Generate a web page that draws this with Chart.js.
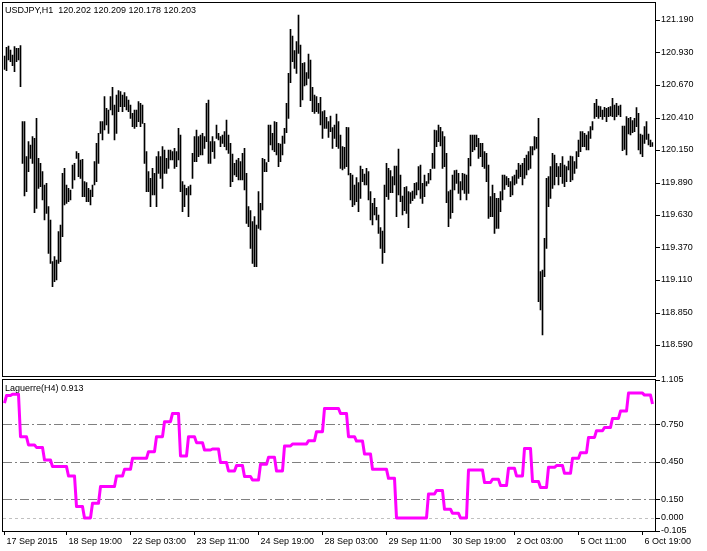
<!DOCTYPE html>
<html>
<head>
<meta charset="utf-8">
<script src="https://cdn.jsdelivr.net/npm/chart.js@4.4.1/dist/chart.umd.min.js"></script>
<style>
  html, body { margin: 0; padding: 0; background: #fff; }
  #wrap { position: relative; width: 707px; height: 551px; overflow: hidden; }
  canvas { position: absolute; left: 0; }
  .box { position: absolute; border: 1px solid #000; box-sizing: border-box; pointer-events: none; }
  .txt { position: absolute; font: 9px "Liberation Sans", Arial, sans-serif; line-height: 11px; color: #000; white-space: pre; }
</style>
</head>
<body>
<div id="wrap">
  <canvas id="priceChart" width="707" height="378" style="top:0"></canvas>
  <canvas id="lagChart" width="707" height="183" style="top:368px"></canvas>
  <div class="box" style="left:2px;top:2px;width:654px;height:375px"></div>
  <div class="box" style="left:2px;top:379px;width:654px;height:153px"></div>
  <div class="txt" style="left:5px;top:5px">USDJPY,H1  120.202 120.209 120.178 120.203</div>
  <div class="txt" style="left:5px;top:383px">Laguerre(H4) 0.913</div>
</div>
<script>
// H1 bars, high and low of each bar
var high = [
  120.902,120.971,120.982,120.950,120.910,120.977,120.963,120.963,120.985,120.377,
  120.377,120.097,120.217,120.190,120.257,120.243,120.403,120.083,120.043,119.977,
  119.870,119.883,119.697,119.590,119.257,119.297,119.270,119.497,119.550,119.963,
  120.003,119.870,119.843,119.830,120.030,120.043,120.137,120.123,120.070,120.075,
  119.897,119.889,119.843,119.830,119.870,120.057,120.203,120.283,120.377,120.377,
  120.577,120.483,120.470,120.577,120.651,120.510,120.590,120.625,120.617,120.590,
  120.609,120.577,120.550,120.510,120.443,120.470,120.470,120.537,120.523,120.510,
  120.363,120.137,119.977,119.923,120.003,119.963,120.097,120.137,120.097,120.177,
  120.150,120.083,120.150,120.150,120.137,120.163,120.137,120.323,120.270,119.897,
  119.870,119.843,119.857,119.870,120.123,120.257,120.310,120.257,120.270,120.283,
  120.257,120.523,120.550,120.217,120.257,120.217,120.350,120.283,120.257,120.270,
  120.297,120.390,120.270,120.203,120.118,120.043,120.070,120.083,120.057,120.123,
  120.163,119.963,119.697,119.665,119.577,119.617,119.550,119.817,119.723,120.083,
  120.075,120.049,120.350,120.350,120.283,120.377,120.371,120.203,120.198,120.262,
  120.323,120.523,120.763,121.115,121.062,120.945,121.017,121.230,120.990,120.843,
  120.849,120.769,120.918,120.870,120.651,120.590,120.577,120.523,120.571,120.457,
  120.465,120.411,120.377,120.422,120.329,120.350,120.438,120.377,120.270,120.177,
  120.171,120.331,120.329,119.963,119.950,119.870,119.929,119.889,120.022,119.995,
  119.958,120.003,119.977,119.817,119.723,119.763,119.691,119.630,119.529,119.502,
  119.870,120.043,120.003,119.985,119.937,120.022,120.022,120.158,119.950,119.782,
  119.851,119.857,119.817,119.809,119.822,119.883,119.889,120.017,120.030,119.883,
  119.950,119.897,119.963,119.995,120.123,120.310,120.305,120.350,120.331,120.297,
  120.257,120.123,119.817,119.830,119.950,119.985,119.990,119.963,119.897,119.963,
  119.958,119.950,120.083,120.270,120.270,120.270,120.270,120.243,120.203,120.203,
  120.137,120.123,120.030,119.777,119.870,119.803,119.763,119.763,119.817,119.950,
  119.950,119.937,119.923,119.897,119.937,119.950,119.990,120.043,120.030,120.043,
  120.083,120.110,120.137,120.177,120.177,120.257,120.251,120.403,119.177,119.190,
  119.443,119.923,119.937,120.017,120.123,120.110,120.043,120.017,120.043,120.097,
  120.030,120.017,120.062,120.102,120.097,120.057,120.137,120.230,120.297,120.297,
  120.283,120.270,120.297,120.337,120.377,120.523,120.555,120.502,120.497,120.470,
  120.491,120.483,120.491,120.497,120.563,120.510,120.523,120.502,120.510,120.342,
  120.342,120.417,120.403,120.411,120.385,120.403,120.489,120.443,120.278,120.270,
  120.337,120.377,120.278,120.230,120.209
];
var low = [
  120.795,120.785,120.870,120.857,120.825,120.777,120.857,120.870,120.657,120.043,
  119.782,119.817,119.977,120.083,120.043,119.649,119.683,119.843,119.857,119.750,
  119.590,119.643,119.323,119.243,119.057,119.097,119.110,119.243,119.257,119.457,
  119.710,119.723,119.737,119.750,119.843,119.910,120.083,119.937,119.923,119.777,
  119.777,119.737,119.737,119.710,119.777,119.870,119.897,120.043,120.283,120.230,
  120.310,120.350,120.283,120.470,120.430,120.230,120.283,120.457,120.497,120.457,
  120.497,120.470,120.457,120.403,120.337,120.323,120.337,120.377,120.337,120.363,
  120.043,119.817,119.817,119.697,119.790,119.790,119.697,119.963,119.923,119.843,
  119.963,119.963,120.003,120.070,120.070,120.003,120.017,120.070,119.817,119.657,
  119.697,119.790,119.617,119.790,119.923,120.057,120.057,120.097,120.110,120.110,
  120.163,120.217,120.043,120.043,120.137,120.083,120.243,120.230,120.177,120.203,
  120.177,120.150,120.123,119.857,119.897,119.950,119.937,119.910,119.910,119.910,
  119.830,119.563,119.537,119.363,119.243,119.217,119.217,119.523,119.510,119.670,
  119.977,119.977,120.057,120.190,120.150,120.137,120.110,120.017,120.057,120.110,
  120.203,120.289,120.403,120.689,120.857,120.803,120.763,120.923,120.497,120.550,
  120.662,120.670,120.723,120.545,120.457,120.443,120.457,120.443,120.350,120.243,
  120.323,120.323,120.251,120.297,120.163,120.243,120.177,120.163,120.003,119.990,
  120.003,120.017,119.950,119.750,119.697,119.710,119.737,119.657,119.763,119.897,
  119.870,119.870,119.750,119.590,119.550,119.630,119.590,119.483,119.363,119.243,
  119.329,119.777,119.755,119.809,119.809,119.870,119.617,119.790,119.737,119.630,
  119.665,119.643,119.529,119.723,119.745,119.763,119.790,119.830,119.763,119.723,
  119.777,119.862,119.883,119.910,120.003,120.003,120.177,120.217,120.182,120.003,
  120.017,119.729,119.537,119.603,119.649,119.830,119.883,119.803,119.750,119.830,
  119.803,119.750,119.803,120.022,120.137,120.150,120.177,120.083,120.097,120.017,
  120.003,119.897,119.603,119.617,119.617,119.483,119.523,119.523,119.657,119.750,
  119.835,119.870,119.857,119.777,119.790,119.870,119.883,119.923,119.937,119.870,
  119.923,119.950,119.990,120.003,120.110,120.150,120.163,118.937,118.870,118.670,
  119.137,119.363,119.697,119.763,119.843,119.870,119.937,119.870,119.937,119.883,
  119.857,119.897,119.990,119.897,119.910,119.963,120.003,120.097,120.137,120.177,
  120.177,120.150,120.150,120.243,120.310,120.403,120.417,120.403,120.417,120.395,
  120.417,120.377,120.417,120.422,120.417,120.390,120.417,120.430,120.417,120.145,
  120.155,120.110,120.278,120.270,120.289,120.297,120.337,120.150,120.118,120.097,
  120.203,120.235,120.190,120.177,120.178
];
// Laguerre(H4) value shown on every H1 bar
var laguerre = [
  0.92,0.98,0.98,0.98,0.99,0.99,0.99,0.99,0.65,0.65,
  0.65,0.65,0.584,0.584,0.584,0.584,0.565,0.565,0.565,0.565,
  0.464,0.464,0.464,0.464,0.411,0.411,0.411,0.411,0.411,0.411,
  0.411,0.411,0.336,0.336,0.336,0.336,0.091,0.091,0.091,0.091,
  0,0,0,0,0.117,0.117,0.117,0.117,0.251,0.251,
  0.251,0.251,0.251,0.251,0.251,0.251,0.336,0.336,0.336,0.336,
  0.389,0.389,0.389,0.389,0.477,0.477,0.477,0.477,0.477,0.477,
  0.477,0.477,0.531,0.531,0.531,0.531,0.651,0.651,0.651,0.651,
  0.771,0.771,0.771,0.771,0.837,0.837,0.837,0.837,0.496,0.496,
  0.496,0.496,0.651,0.651,0.651,0.651,0.603,0.603,0.603,0.603,
  0.544,0.544,0.544,0.544,0.552,0.552,0.552,0.552,0.443,0.443,
  0.443,0.443,0.376,0.376,0.376,0.376,0.419,0.419,0.419,0.419,
  0.331,0.331,0.331,0.331,0.304,0.304,0.304,0.304,0.429,0.429,
  0.429,0.429,0.485,0.485,0.485,0.485,0.376,0.376,0.376,0.376,
  0.576,0.576,0.576,0.576,0.592,0.592,0.592,0.592,0.592,0.592,
  0.592,0.592,0.619,0.619,0.619,0.619,0.691,0.691,0.691,0.691,
  0.877,0.877,0.877,0.877,0.877,0.877,0.877,0.877,0.837,0.837,
  0.837,0.837,0.651,0.651,0.651,0.651,0.616,0.616,0.616,0.616,
  0.512,0.512,0.512,0.512,0.389,0.389,0.389,0.389,0.389,0.389,
  0.389,0.389,0.317,0.317,0.317,0.317,0,0,0,0,
  0,0,0,0,0,0,0,0,0,0,
  0,0,0.192,0.192,0.192,0.192,0.219,0.219,0.219,0.219,
  0.069,0.069,0.069,0.069,0.037,0.037,0.037,0.037,0,0,
  0,0,0.384,0.384,0.384,0.384,0.384,0.384,0.384,0.384,
  0.283,0.283,0.283,0.283,0.309,0.309,0.309,0.309,0.259,0.259,
  0.259,0.259,0.397,0.397,0.397,0.397,0.336,0.336,0.336,0.336,
  0.557,0.557,0.557,0.557,0.291,0.291,0.291,0.291,0.243,0.243,
  0.243,0.243,0.405,0.405,0.405,0.405,0.419,0.419,0.419,0.419,
  0.357,0.357,0.357,0.357,0.477,0.477,0.477,0.477,0.523,0.523,
  0.523,0.523,0.645,0.645,0.645,0.645,0.699,0.699,0.699,0.699,
  0.725,0.725,0.725,0.725,0.797,0.797,0.797,0.797,0.856,0.856,
  0.856,0.856,1.0,1.0,1.0,1.0,1.0,1.0,1.0,1.0,
  0.984,0.984,0.984,0.984,0.913
];
// axis labels
var priceTicks = [121.19, 120.93, 120.67, 120.41, 120.15, 119.89, 119.63, 119.37, 119.11, 118.85, 118.59];
var lagTicks = [1.105, 0.75, 0.45, 0.15, 0, -0.105];
var lagLevels = [0.75, 0.45, 0.15, 0];
var timeTickBars = [0, 31, 63, 95, 127, 159, 191, 223, 255, 287, 319];
var timeTickText = ["17 Sep 2015", "18 Sep 19:00", "22 Sep 03:00", "23 Sep 11:00", "24 Sep 19:00",
  "28 Sep 03:00", "29 Sep 11:00", "30 Sep 19:00", "2 Oct 03:00", "5 Oct 11:00", "6 Oct 19:00"];

var bars = high.map(function (h, i) { return i; });

Chart.defaults.font.family = '"Liberation Sans", Arial, sans-serif';
Chart.defaults.font.size = 9;
Chart.defaults.color = '#000';

// little tick marks right of the panel border
var sideTicks = {
  id: 'sideTicks',
  afterDraw: function (chart) {
    var ctx = chart.ctx, y = chart.scales.y, x0 = chart.chartArea.right + 2.5;
    ctx.save();
    ctx.strokeStyle = '#000';
    ctx.lineWidth = 1;
    y.ticks.forEach(function (t) {
      var py = Math.round(y.getPixelForValue(t.value)) + 0.5;
      ctx.beginPath();
      ctx.moveTo(x0, py);
      ctx.lineTo(x0 + 4, py);
      ctx.stroke();
    });
    ctx.restore();
  }
};

// indicator levels
var levelLines = {
  id: 'levelLines',
  beforeDatasetsDraw: function (chart) {
    var ctx = chart.ctx, a = chart.chartArea, y = chart.scales.y;
    ctx.save();
    ctx.lineWidth = 1;
    lagLevels.forEach(function (v) {
      var py = Math.round(y.getPixelForValue(v)) + 0.5;
      ctx.strokeStyle = v === 0 ? '#c0c0c0' : '#808080';
      ctx.setLineDash(v === 0 ? [3, 3] : [9, 3, 2, 3]);
      ctx.beginPath();
      ctx.moveTo(a.left - 0.5, py);
      ctx.lineTo(a.right + 1.5, py);
      ctx.stroke();
    });
    ctx.restore();
  }
};

function noPad(s) {
  s.paddingTop = 0; s.paddingBottom = 0; s.paddingLeft = 0; s.paddingRight = 0;
}

function rightAxis(min, max, ticks, digits) {
  return {
    position: 'right',
    min: min,
    max: max,
    afterFit: function (s) { s.width = 53.5; noPad(s); },
    afterBuildTicks: function (s) { s.ticks = ticks.map(function (v) { return { value: v }; }); },
    grid: { drawOnChartArea: false, drawTicks: false },
    border: { display: false },
    ticks: { padding: 7.5, callback: function (v) { return Number(v).toFixed(digits); } }
  };
}

new Chart(document.getElementById('priceChart'), {
  type: 'bar',
  data: {
    labels: bars,
    datasets: [{
      data: low.map(function (l, i) { return [l, high[i]]; }),
      backgroundColor: '#000',
      borderWidth: 0,
      barThickness: 1
    }]
  },
  options: {
    responsive: false,
    animation: false,
    devicePixelRatio: 1,
    layout: { padding: { left: 3.5, top: 2, right: 0, bottom: 1 } },
    plugins: { legend: { display: false }, tooltip: { enabled: false } },
    scales: {
      x: { type: 'category', offset: true, display: false },
      y: rightAxis(118.334, 121.334, priceTicks, 3)
    }
  },
  plugins: [sideTicks]
});

new Chart(document.getElementById('lagChart'), {
  type: 'line',
  data: {
    labels: bars,
    datasets: [{
      data: laguerre,
      borderColor: '#ff00ff',
      borderWidth: 3,
      pointRadius: 0,
      tension: 0,
      borderJoinStyle: 'round'
    }]
  },
  options: {
    responsive: false,
    animation: false,
    devicePixelRatio: 1,
    layout: { padding: { left: 3.5, top: 12, right: 0, bottom: 0 } },
    plugins: { legend: { display: false }, tooltip: { enabled: false } },
    scales: {
      x: {
        type: 'category',
        offset: true,
        afterFit: function (s) { s.height = 20; noPad(s); },
        afterBuildTicks: function (s) { s.ticks = timeTickBars.map(function (v) { return { value: v }; }); },
        grid: { offset: false, drawOnChartArea: false, drawTicks: true, tickLength: 4, tickColor: '#000' },
        border: { display: false },
        ticks: {
          autoSkip: false, maxRotation: 0, minRotation: 0, align: 'start', labelOffset: 2, padding: 1,
          callback: function (v) { return timeTickText[timeTickBars.indexOf(v)]; }
        }
      },
      y: rightAxis(-0.105, 1.105, lagTicks, 3)
    }
  },
  plugins: [levelLines, sideTicks]
});
</script>
</body>
</html>
